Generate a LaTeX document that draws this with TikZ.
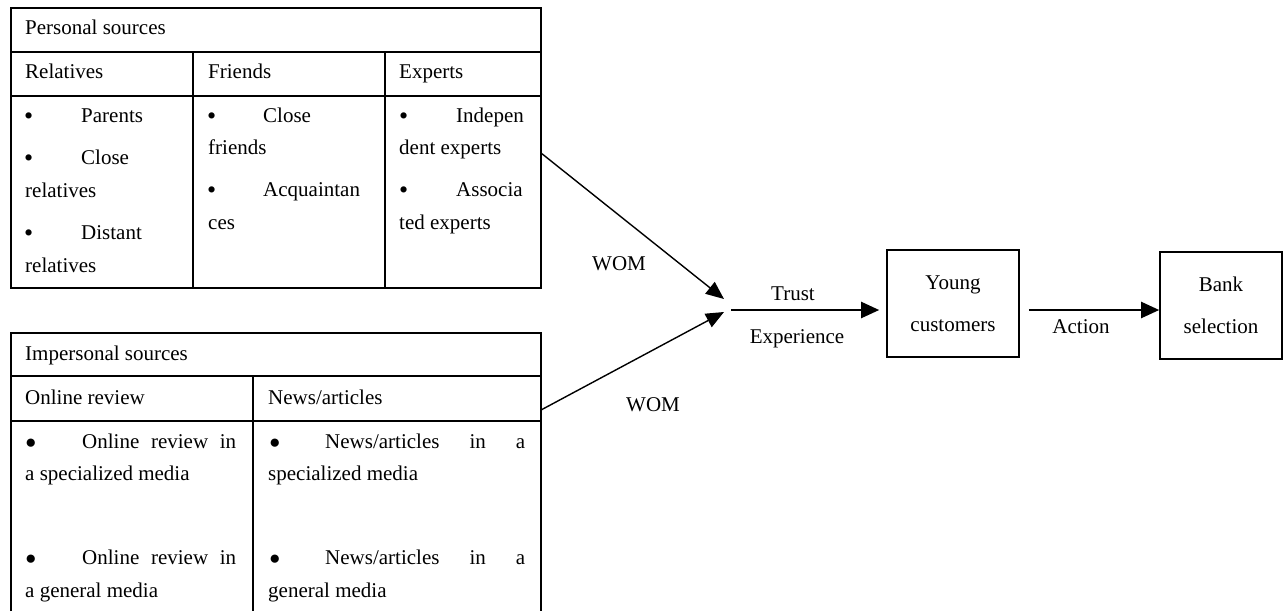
\documentclass[tikz,border=0pt]{standalone}
\usepackage{fontspec}
\setmainfont{Liberation Serif}
\usetikzlibrary{calc,positioning,arrows.meta}

\tikzset{
  tline/.style={line width=1.6pt},
  cell/.style={anchor=base west,inner sep=0pt,font=\fontsize{21}{25}\selectfont},
  dot/.style={anchor=base west,inner sep=0pt,yshift=-2.5pt,font=\fontsize{26}{25}\selectfont},
  bigdot/.style={anchor=base west,inner sep=0pt,font=\fontsize{19}{25}\selectfont},
  lbl/.style={anchor=base,inner sep=0pt,font=\fontsize{21}{25}\selectfont},
  wom/.style={line width=1.4pt,-{Triangle[length=18pt,width=15pt]}},
  flow/.style={line width=2.2pt,-{Triangle[length=18pt,width=16pt]}},
  stage/.style={draw,line width=1.6pt,inner sep=0pt,align=center,font=\fontsize{21}{42}\selectfont}
}
\newcommand{\jline}[2]{\makebox[#1pt][s]{#2}}

\begin{document}
\begin{tikzpicture}[x=1pt,y=-1pt]
\useasboundingbox (0,0) rectangle (1283,611);

\draw[tline] (11,8) rectangle (541,288);
\draw[tline] (11,52) -- (541,52);
\draw[tline] (11,96) -- (541,96);
\draw[tline] (193,52) -- (193,288);
\draw[tline] (385,52) -- (385,288);

\node[cell] (ps) at (25,34) {Personal sources};
\node[cell] (rel) at (25,78) {Relatives};
\node[cell] (fri) at (208,78) {Friends};
\node[cell] (exp) at (399,78) {Experts};

\node[dot] (rb1) at (24,122) {\textbullet};
\node[cell] (rt1) at (81,122) {Parents};
\node[dot] (rb2) at (24,164) {\textbullet};
\node[cell] (rt2) at (81,164) {Close};
\node[cell] (rt3) at (25,197) {relatives};
\node[dot] (rb3) at (24,239) {\textbullet};
\node[cell] (rt4) at (81,239) {Distant};
\node[cell] (rt5) at (25,272) {relatives};

\node[dot] (fb1) at (207,122) {\textbullet};
\node[cell] (ft1) at (263,122) {Close};
\node[cell] (ft2) at (208,154) {friends};
\node[dot] (fb2) at (207,196) {\textbullet};
\node[cell] (ft3) at (263,196) {Acquaintan};
\node[cell] (ft4) at (208,229) {ces};

\node[dot] (eb1) at (399,122) {\textbullet};
\node[cell] (et1) at (456,122) {Indepen};
\node[cell] (et2) at (399,154) {dent experts};
\node[dot] (eb2) at (399,196) {\textbullet};
\node[cell] (et3) at (456,196) {Associa};
\node[cell] (et4) at (399,229) {ted experts};

\draw[tline] (11,611) -- (11,333) -- (541,333) -- (541,611);
\draw[tline] (11,376) -- (541,376);
\draw[tline] (11,421) -- (541,421);
\draw[tline] (253,376) -- (253,611);

\node[cell] (ips) at (25,360) {Impersonal sources};
\node[cell] (onl) at (25,404) {Online review};
\node[cell] (news) at (268,404) {News/articles};

\node[bigdot] (ob1) at (25,448) {●};
\node[cell] (ot1) at (82,448) {\jline{154}{Online review in}};
\node[cell] (ot2) at (25,480) {a specialized media};
\node[bigdot] (ob2) at (25,564) {●};
\node[cell] (ot3) at (82,564) {\jline{154}{Online review in}};
\node[cell] (ot4) at (25,597) {a general media};

\node[bigdot] (nb1) at (269,448) {●};
\node[cell] (nt1) at (325,448) {\jline{200}{News/articles in a}};
\node[cell] (nt2) at (268,480) {specialized media};
\node[bigdot] (nb2) at (269,564) {●};
\node[cell] (nt3) at (325,564) {\jline{200}{News/articles in a}};
\node[cell] (nt4) at (268,597) {general media};

\coordinate (perout) at (541,153);
\coordinate (impout) at (541,410);
\coordinate (join1) at (724,299);
\coordinate (join2) at (724,312);
\coordinate (trustin) at (731,310);

\node[stage,minimum width=132pt,minimum height=107pt] (young) at (953,303.5) {Young\\customers};
\node[stage,minimum width=122pt,minimum height=107pt] (bank) at (1221,305.5) {Bank\\selection};

\draw[wom] (perout) -- (join1);
\draw[wom] (impout) -- (join2);
\draw[flow,shorten >=7pt] (trustin) -- (young.west |- trustin);
\draw[flow,shorten <=9pt] (young.east |- trustin) -- (bank.west |- trustin);

\node[lbl] (wom1) at (619,270) {WOM};
\node[lbl] (wom2) at (653,411) {WOM};
\node[lbl] (trust) at (793,300) {Trust};
\node[lbl] (expe) at (797,343) {Experience};
\node[lbl] (act) at (1081,333) {Action};
\end{tikzpicture}
\end{document}
